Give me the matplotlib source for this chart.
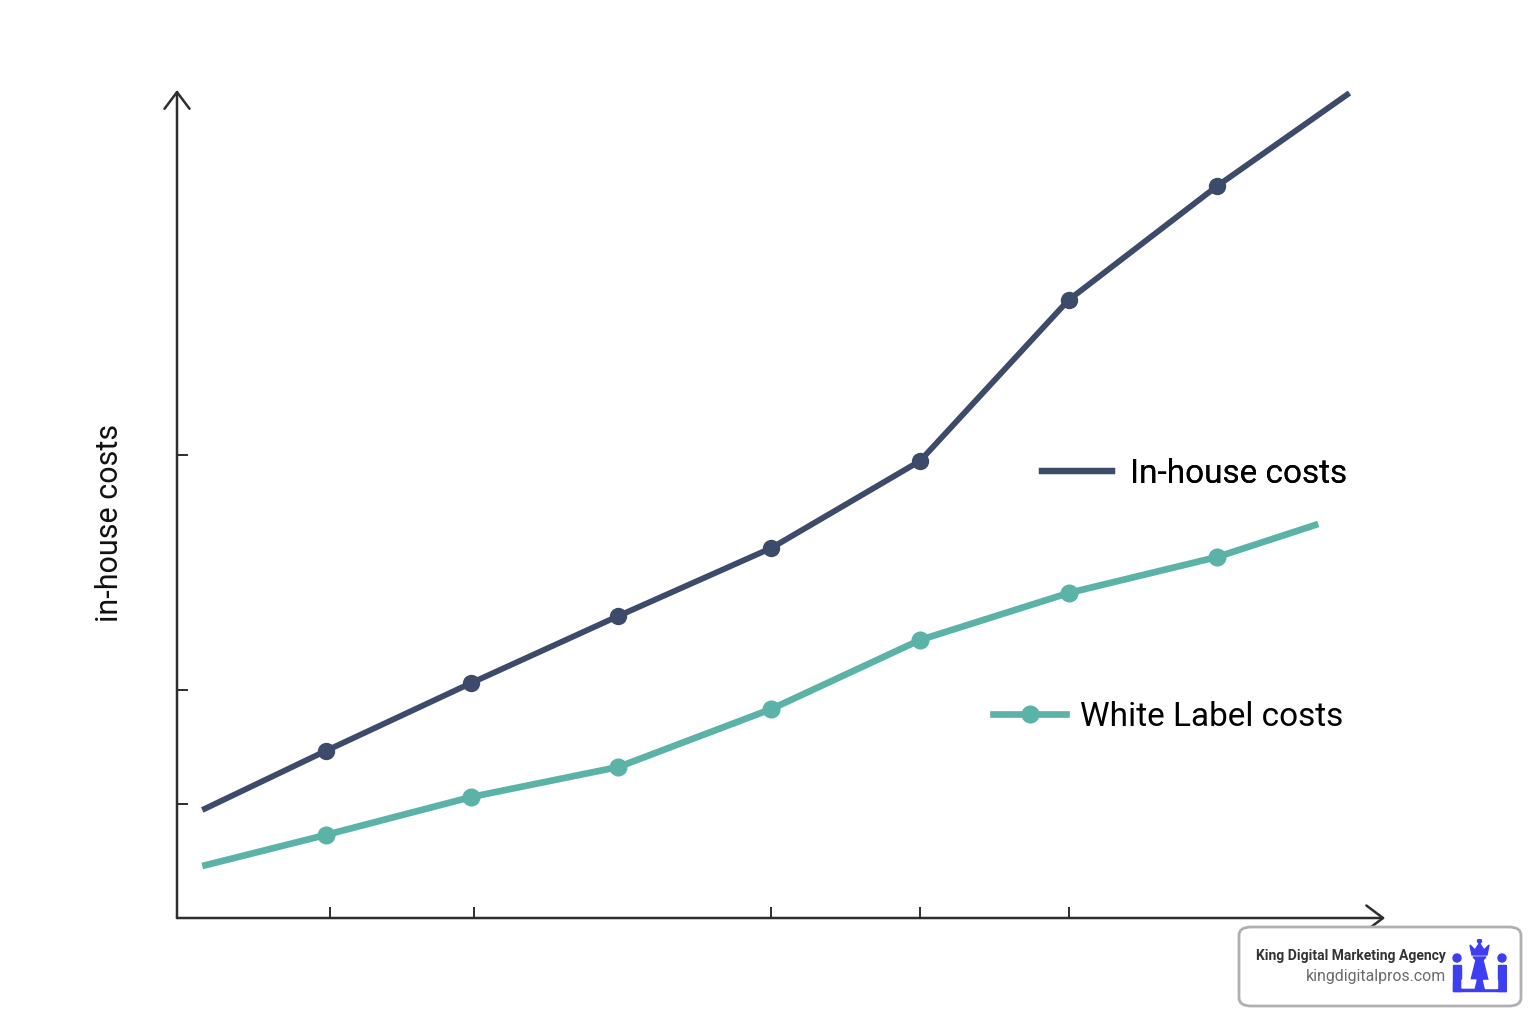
import matplotlib.pyplot as plt
from matplotlib.lines import Line2D
from matplotlib.patches import FancyBboxPatch, Rectangle, Circle, Polygon

plt.rcParams['font.family'] = ['Roboto', 'DejaVu Sans']

# data (arbitrary units)
x_inhouse = [0.17, 1, 1.98, 2.97, 4, 5, 6, 7, 7.89]
y_inhouse = [1.08, 1.67, 2.35, 3.02, 3.70, 4.57, 6.18, 7.32, 8.25]
x_white = [0.17, 1, 1.98, 2.97, 4, 5, 6, 7, 7.68]
y_white = [0.52, 0.83, 1.21, 1.51, 2.09, 2.78, 3.25, 3.61, 3.94]
xticks = [1.03, 2, 4, 5, 6]
yticks = [1.14, 2.28, 4.63]

dark = '#3c4b6a'
teal = '#5bb3a7'
axcol = '#2e2e2e'

fig = plt.figure(figsize=(15.36, 10.24), dpi=100)
W, H = 1536, 1024
xmax, ymax = 8.2, 8.4
ax = fig.add_axes([177 / W, (H - 918) / H, xmax * 148.6 / W, ymax * 100 / H])
ax.set_xlim(0, xmax)
ax.set_ylim(0, ymax)
for s in ax.spines.values():
    s.set_visible(False)

# axes with open arrow heads
arrow = dict(arrowstyle='->,head_length=0.6,head_width=0.45', color=axcol, lw=1.8,
             shrinkA=0, shrinkB=0, mutation_scale=20)
ax.annotate('', xy=(0, 8.28), xytext=(0, 0), arrowprops=arrow, annotation_clip=False)
ax.annotate('', xy=(8.13, 0), xytext=(0, 0), arrowprops=arrow, annotation_clip=False)

ax.set_xticks(xticks)
ax.set_yticks(yticks)
ax.tick_params(direction='in', length=8, width=1.4, color=axcol,
               labelbottom=False, labelleft=False)

ax.plot(x_inhouse, y_inhouse, color=dark, lw=4.2, clip_on=False, solid_capstyle='butt')
ax.plot(x_inhouse[1:-1], y_inhouse[1:-1], 'o', color=dark, ms=11.5, clip_on=False)
ax.plot(x_white, y_white, color=teal, lw=4.8, clip_on=False, solid_capstyle='butt')
ax.plot(x_white[1:-1], y_white[1:-1], 'o', color=teal, ms=12, clip_on=False)

fig.text(110 / W, 1 - 523 / H, 'in-house costs', rotation=90, fontsize=22,
         ha='center', va='center', color='#111111')

# legends
h1 = Line2D([], [], color=dark, lw=4.5)
lg1 = fig.legend([h1], ['In-house costs'], loc='center left',
                 bbox_to_anchor=(1042 / W, 1 - 474 / H), frameon=False,
                 borderpad=0, borderaxespad=0, handlelength=2.1, handletextpad=0.55,
                 fontsize=24)
h2 = Line2D([], [], color=teal, lw=4.8, marker='o', ms=12)
lg2 = fig.legend([h2], ['White Label costs'], loc='center left',
                 bbox_to_anchor=(993 / W, 1 - 717 / H), frameon=False,
                 borderpad=0, borderaxespad=0, handlelength=2.2, handletextpad=0.4,
                 fontsize=24)
fig.add_artist(lg1)

# watermark box
box = FancyBboxPatch((1239 / W, 1 - 1006 / H), 282 / W, 79 / H,
                     boxstyle='round,pad=0,rounding_size=0.008',
                     transform=fig.transFigure, facecolor='white',
                     edgecolor='#b0b0b0', lw=2)
fig.add_artist(box)
fig.text(1446 / W, 1 - 956 / H, 'King Digital Marketing Agency', fontsize=10,
         fontweight='bold', color='#333333', ha='right', va='center')
fig.text(1446 / W, 1 - 977 / H, 'kingdigitalpros.com', fontsize=11.4,
         color='#6b6b6b', ha='right', va='center')

# logo
lax = fig.add_axes([1452 / W, 1 - 993 / H, 55 / W, 54 / H])
lax.set_zorder(5)
lax.set_xlim(0, 55)
lax.set_ylim(0, 54)
lax.axis('off')
blue = '#3d3df2'
lax.add_patch(Rectangle((1, 2), 53, 9, color=blue))
lax.add_patch(Rectangle((1, 2), 8, 26, color=blue))
lax.add_patch(Rectangle((46, 2), 8, 26, color=blue))
lax.add_patch(Circle((5, 35), 4, color=blue))
lax.add_patch(Circle((50, 35), 4, color=blue))
lax.add_patch(Polygon([(18, 9), (37, 9), (31, 33), (34, 36), (21, 36), (24, 33)], color=blue))
lax.add_patch(Polygon([(20, 38), (35, 38), (37, 48), (32, 43), (27.5, 50), (23, 43), (18, 48)], color=blue))
lax.add_patch(Circle((27.5, 52), 2, color=blue))
lax.add_patch(Polygon([(10, 13), (24, 13), (22, 5), (10, 5)], color='white'))
lax.add_patch(Polygon([(31, 13), (45, 13), (45, 5), (33, 5)], color='white'))

fig.savefig('out.png', dpi=100, facecolor='white')
